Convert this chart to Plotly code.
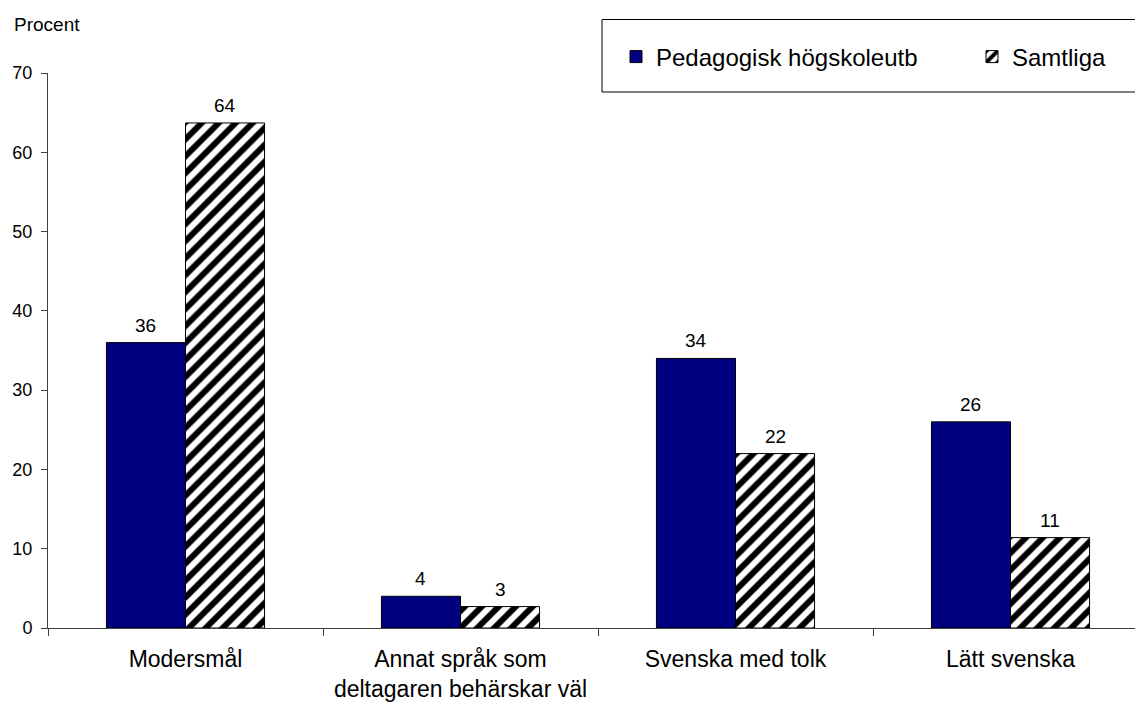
import plotly.graph_objects as go

categories = ["Modersmål", "Annat språk som<br>deltagaren behärskar väl", "Svenska med tolk", "Lätt svenska"]
series_names = ["Pedagogisk högskoleutb", "Samtliga"]
pedagogisk = [36, 4, 34, 26]
samtliga = [63.7, 2.7, 22, 11.4]
y_ticks = [0, 10, 20, 30, 40, 50, 60, 70]

FONT = "Liberation Sans, Arial, sans-serif"
W, H = 1135, 702
ML, MR, MT, MB = 48, 0, 73, 74
plot_w = W - ML - MR
ph = H - MT - MB
cat_px = 275
span = plot_w / cat_px

fig = go.Figure()
fig.add_trace(go.Bar(
    x=categories, y=pedagogisk, name=series_names[0],
    marker=dict(color="#000080", line=dict(color="black", width=1)),
))
fig.add_trace(go.Bar(
    x=categories, y=samtliga, name=series_names[1],
    marker=dict(color="white", line=dict(color="black", width=1),
                pattern=dict(shape="/", fgcolor="#000000", bgcolor="#ffffff", fgopacity=1,
                             size=12, solidity=0.5)),
))

bar_px = cat_px * (1 - 0.425) / 2
for vals, sign in ((pedagogisk, -1), (samtliga, 1)):
    for c, v in zip(categories, vals):
        fig.add_annotation(x=c, y=v, xref="x", yref="y", text=str(round(v)),
                           showarrow=False, yanchor="bottom", yshift=5,
                           xshift=sign * bar_px / 2,
                           font=dict(family=FONT, size=19, color="black"))

fig.add_annotation(xref="paper", yref="paper", x=(12 - ML) / plot_w, y=(H - MB - 24) / ph,
                   xanchor="left", yanchor="middle", text="Procent", showarrow=False,
                   font=dict(family=FONT, size=19, color="black"))

# legend frame
fig.add_shape(type="rect", xref="paper", yref="paper",
              x0=(602 - ML) / plot_w, x1=1.02,
              y0=(H - MB - 92) / ph, y1=(H - MB - 19.5) / ph,
              line=dict(color="black", width=1), fillcolor="rgba(0,0,0,0)", layer="above")

fig.update_layout(
    width=W, height=H,
    margin=dict(l=ML, r=MR, t=MT, b=MB, pad=0, autoexpand=False),
    paper_bgcolor="white", plot_bgcolor="white",
    barmode="group", bargap=0.425, bargroupgap=0,
    font=dict(family=FONT, size=18, color="black"),
    showlegend=True,
    legend=dict(orientation="h", xref="container", yref="container",
                x=616 / W, y=1 - 57 / H, xanchor="left", yanchor="middle",
                font=dict(family=FONT, size=24, color="black"),
                entrywidth=311, entrywidthmode="pixels",
                bgcolor="rgba(0,0,0,0)", borderwidth=0),
    xaxis=dict(range=[-0.5, -0.5 + span], showgrid=False, showline=True, linecolor="#404040", linewidth=1,
               ticks="outside", tickson="boundaries", ticklen=7, tickcolor="#404040",
               tickfont=dict(family=FONT, size=23, color="black"), ticklabelstandoff=10,
               fixedrange=True, automargin=False),
    yaxis=dict(range=[0, 70], tickvals=y_ticks, showgrid=False, showline=True, linecolor="#404040", linewidth=1,
               ticks="outside", ticklen=6, tickcolor="#404040", zeroline=False,
               tickfont=dict(family=FONT, size=18, color="black"), ticklabelstandoff=5,
               fixedrange=True, automargin=False),
)

fig.write_html("out.html", config={"displayModeBar": False, "staticPlot": True},
               post_script="document.body.style.margin='0';document.body.style.overflow='hidden';")
